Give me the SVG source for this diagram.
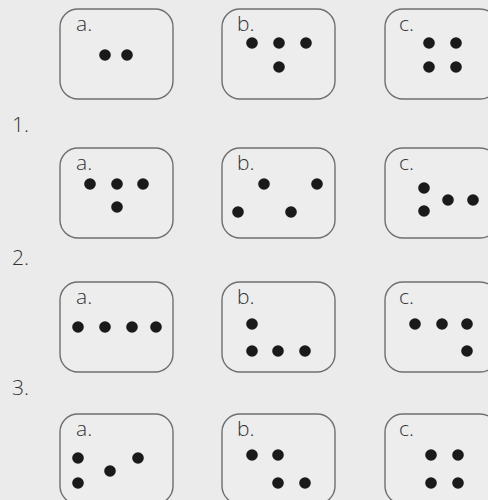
<svg xmlns="http://www.w3.org/2000/svg" width="488" height="500" viewBox="0 0 488 500">
<style>
.box{fill:#ededed;stroke:#6f6f6f;stroke-width:1.4}
.d{fill:#1a1a1a}
.lbl{font-family:"Open Sans","Liberation Sans",sans-serif;font-weight:300;font-size:21px;fill:#333}
.num{font-family:"Open Sans","Liberation Sans",sans-serif;font-weight:300;font-size:21px;fill:#333}
</style>
<rect width="488" height="500" fill="#ebebeb"/>
<text class="num" x="12" y="132">1.</text>
<text class="num" x="12" y="265">2.</text>
<text class="num" x="12" y="395">3.</text>
<g id="r1a"><rect class="box" x="60" y="9" width="113" height="90" rx="18"/><text class="lbl" x="76" y="31">a.</text>
<circle class="d" cx="105" cy="55" r="5.8"/><circle class="d" cx="127" cy="55" r="5.8"/></g>
<g id="r1b"><rect class="box" x="222" y="9" width="113" height="90" rx="18"/><text class="lbl" x="237" y="31">b.</text>
<circle class="d" cx="252" cy="43" r="5.8"/><circle class="d" cx="279" cy="43" r="5.8"/><circle class="d" cx="306" cy="43" r="5.8"/><circle class="d" cx="279" cy="67" r="5.8"/></g>
<g id="r1c"><rect class="box" x="385" y="9" width="113" height="90" rx="18"/><text class="lbl" x="399" y="31">c.</text>
<circle class="d" cx="429" cy="43" r="5.8"/><circle class="d" cx="456" cy="43" r="5.8"/><circle class="d" cx="429" cy="67" r="5.8"/><circle class="d" cx="456" cy="67" r="5.8"/></g>
<g id="r2a"><rect class="box" x="60" y="148" width="113" height="90" rx="18"/><text class="lbl" x="76" y="170">a.</text>
<circle class="d" cx="90" cy="184" r="5.8"/><circle class="d" cx="117" cy="184" r="5.8"/><circle class="d" cx="143" cy="184" r="5.8"/><circle class="d" cx="117" cy="207" r="5.8"/></g>
<g id="r2b"><rect class="box" x="222" y="148" width="113" height="90" rx="18"/><text class="lbl" x="237" y="170">b.</text>
<circle class="d" cx="264" cy="184" r="5.8"/><circle class="d" cx="317" cy="184" r="5.8"/><circle class="d" cx="238" cy="212" r="5.8"/><circle class="d" cx="291" cy="212" r="5.8"/></g>
<g id="r2c"><rect class="box" x="385" y="148" width="113" height="90" rx="18"/><text class="lbl" x="399" y="170">c.</text>
<circle class="d" cx="424" cy="188" r="5.8"/><circle class="d" cx="424" cy="211" r="5.8"/><circle class="d" cx="448" cy="200" r="5.8"/><circle class="d" cx="473" cy="200" r="5.8"/></g>
<g id="r3a"><rect class="box" x="60" y="282" width="113" height="90" rx="18"/><text class="lbl" x="76" y="304">a.</text>
<circle class="d" cx="78" cy="327" r="5.8"/><circle class="d" cx="105" cy="327" r="5.8"/><circle class="d" cx="132" cy="327" r="5.8"/><circle class="d" cx="156" cy="327" r="5.8"/></g>
<g id="r3b"><rect class="box" x="222" y="282" width="113" height="90" rx="18"/><text class="lbl" x="237" y="304">b.</text>
<circle class="d" cx="252" cy="324" r="5.8"/><circle class="d" cx="252" cy="351" r="5.8"/><circle class="d" cx="278" cy="351" r="5.8"/><circle class="d" cx="305" cy="351" r="5.8"/></g>
<g id="r3c"><rect class="box" x="385" y="282" width="113" height="90" rx="18"/><text class="lbl" x="399" y="304">c.</text>
<circle class="d" cx="415" cy="324" r="5.8"/><circle class="d" cx="442" cy="324" r="5.8"/><circle class="d" cx="467" cy="324" r="5.8"/><circle class="d" cx="467" cy="351" r="5.8"/></g>
<g id="r4a"><rect class="box" x="60" y="414" width="113" height="90" rx="18"/><text class="lbl" x="76" y="436">a.</text>
<circle class="d" cx="78" cy="458" r="5.8"/><circle class="d" cx="78" cy="483" r="5.8"/><circle class="d" cx="110" cy="471" r="5.8"/><circle class="d" cx="138" cy="458" r="5.8"/></g>
<g id="r4b"><rect class="box" x="222" y="414" width="113" height="90" rx="18"/><text class="lbl" x="237" y="436">b.</text>
<circle class="d" cx="252" cy="455" r="5.8"/><circle class="d" cx="278" cy="455" r="5.8"/><circle class="d" cx="278" cy="483" r="5.8"/><circle class="d" cx="305" cy="483" r="5.8"/></g>
<g id="r4c"><rect class="box" x="385" y="414" width="113" height="90" rx="18"/><text class="lbl" x="399" y="436">c.</text>
<circle class="d" cx="431" cy="455" r="5.8"/><circle class="d" cx="458" cy="455" r="5.8"/><circle class="d" cx="431" cy="483" r="5.8"/><circle class="d" cx="458" cy="483" r="5.8"/></g>
<g id="connectors"></g>
</svg>
